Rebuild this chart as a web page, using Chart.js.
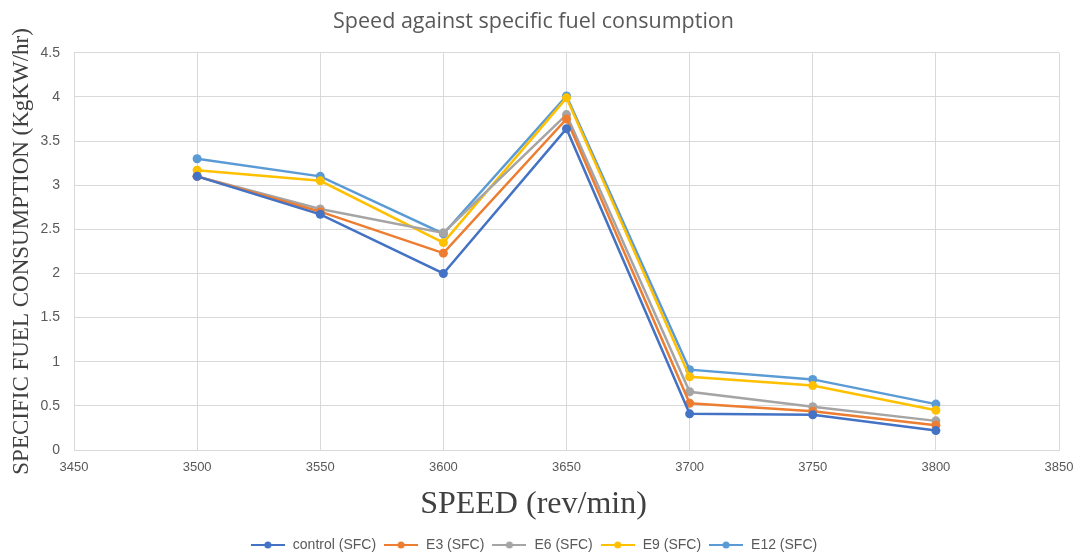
<!DOCTYPE html>
<html>
<head>
<meta charset="utf-8">
<script src="https://cdn.jsdelivr.net/npm/chart.js@4"></script>
<style>
  html, body { margin: 0; padding: 0; background: #fff; }
  #wrap { width: 1075px; height: 554px; }
</style>
</head>
<body>
<div id="wrap"><canvas id="myChart" width="1075" height="554"></canvas></div>
<script>
"use strict";

// speed values (rev/min)
var speeds = [3500, 3550, 3600, 3650, 3700, 3750, 3800];

// specific fuel consumption per blend
var controlSfc = [3.10, 2.67, 2.00, 3.64, 0.41, 0.40, 0.22];
var e3Sfc      = [3.10, 2.70, 2.23, 3.75, 0.53, 0.44, 0.28];
var e6Sfc      = [3.10, 2.73, 2.46, 3.80, 0.66, 0.49, 0.33];
var e9Sfc      = [3.17, 3.05, 2.35, 3.99, 0.83, 0.73, 0.45];
var e12Sfc     = [3.30, 3.10, 2.45, 4.01, 0.91, 0.80, 0.52];

var seriesNames = ['control (SFC)', 'E3 (SFC)', 'E6 (SFC)', 'E9 (SFC)', 'E12 (SFC)'];
var seriesValues = [controlSfc, e3Sfc, e6Sfc, e9Sfc, e12Sfc];
var seriesColors = ['#4472C4', '#ED7D31', '#A5A5A5', '#FFC000', '#5B9BD5'];

// little line-with-dot marker for the legend, like excel does
function legendMarker(color) {
    var c = document.createElement('canvas');
    c.width = 34; c.height = 10;
    var g = c.getContext('2d');
    g.strokeStyle = color;
    g.lineWidth = 2;
    g.beginPath();
    g.moveTo(0, 5); g.lineTo(34, 5);
    g.stroke();
    g.fillStyle = color;
    g.beginPath();
    g.arc(17, 5, 3.5, 0, Math.PI * 2);
    g.fill();
    return c;
}

var datasets = seriesNames.map(function(name, i) {
    return {
        label: name,
        data: speeds.map(function(s, j) { return { x: s, y: seriesValues[i][j] }; }),
        borderColor: seriesColors[i],
        backgroundColor: seriesColors[i],
        borderWidth: 2.5,
        pointRadius: 4.5,
        pointHoverRadius: 4.5,
        pointBorderWidth: 0,
        showLine: true,
        tension: 0
    };
});

var ctx = document.getElementById('myChart').getContext('2d');
var chart = new Chart(ctx, {
    type: 'scatter',
    data: { datasets: datasets },
    options: {
        responsive: false,
        animation: false,
        layout: { padding: { left: 8, right: 16, top: 2, bottom: -8 } },
        plugins: {
            title: {
                display: true,
                text: 'Speed against specific fuel consumption',
                color: '#595959',
                font: { family: 'Open Sans', size: 21.5, weight: 'normal' },
                padding: { top: 7, bottom: 18 }
            },
            // x axis title drawn as a bottom subtitle so it sits centred on the page like excel
            subtitle: {
                display: true,
                position: 'bottom',
                text: 'SPEED (rev/min)',
                color: '#404040',
                font: { family: 'Liberation Serif', size: 32, weight: 'normal' },
                padding: { top: 0, bottom: 7 }
            },
            legend: {
                position: 'bottom',
                weight: 3000,
                labels: {
                    color: '#595959',
                    font: { family: 'Liberation Sans', size: 14 },
                    usePointStyle: true,
                    pointStyleWidth: 36,
                    padding: 7,
                    generateLabels: function(ch) {
                        return ch.data.datasets.map(function(ds, i) {
                            return {
                                text: ds.label,
                                fillStyle: ds.borderColor,
                                strokeStyle: ds.borderColor,
                                fontColor: '#595959',
                                pointStyle: legendMarker(ds.borderColor),
                                datasetIndex: i,
                                hidden: false
                            };
                        });
                    }
                }
            },
            tooltip: { enabled: false }
        },
        scales: {
            x: {
                type: 'linear',
                min: 3450,
                max: 3850,
                // let the last tick label hang into the right margin
                afterFit: function(scale) { scale.paddingRight = 0; },
                ticks: {
                    stepSize: 50, color: '#595959', padding: 10,
                    font: { family: 'Liberation Sans', size: 13 },
                    callback: function(v) { return String(v); }
                },
                grid: { color: '#D9D9D9', lineWidth: 1, drawTicks: false },
                border: { color: '#D9D9D9' }
            },
            y: {
                min: 0,
                max: 4.5,
                // tighter axis box so the rotated title sits close to the ticks
                afterFit: function(scale) { scale.width = 66; },
                ticks: {
                    stepSize: 0.5, color: '#595959', padding: 14,
                    font: { family: 'Liberation Sans', size: 14 },
                    callback: function(v) { return String(v); }
                },
                grid: { color: '#D9D9D9', lineWidth: 1, drawTicks: false },
                border: { color: '#D9D9D9' },
                title: {
                    display: true,
                    text: 'SPECIFIC FUEL CONSUMPTION (KgKW/hr)',
                    color: '#404040',
                    font: { family: 'Liberation Serif', size: 23 },
                    padding: { top: 0, bottom: 0 }
                }
            }
        }
    }
});
</script>
</body>
</html>
